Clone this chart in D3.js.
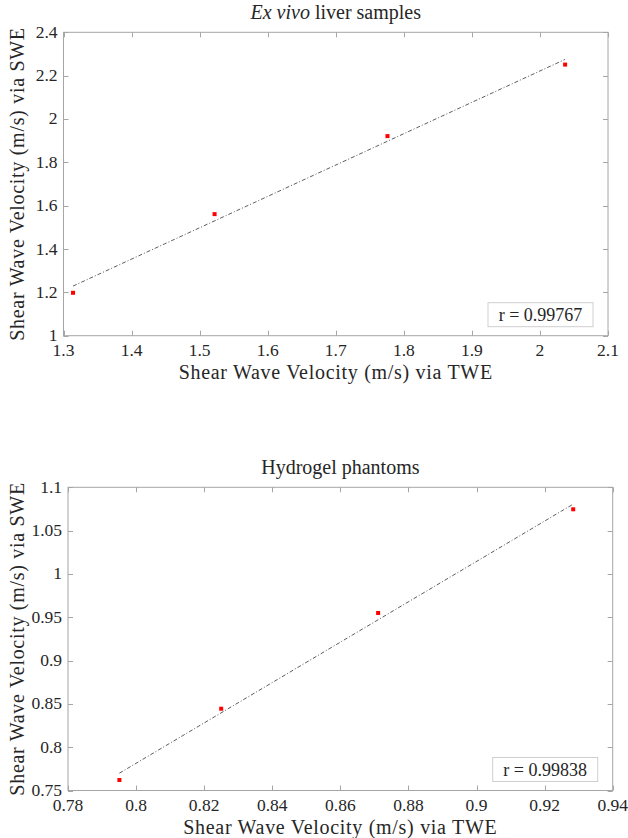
<!DOCTYPE html>
<html>
<head>
<meta charset="utf-8">
<script src="https://cdn.jsdelivr.net/npm/d3@7"></script>
<style>
  html, body { margin: 0; padding: 0; background: #fff; }
  svg text { font-family: "Liberation Serif", "DejaVu Serif", serif; fill: #262626; }
</style>
</head>
<body>
<svg id="chart" width="628" height="838"></svg>
<script>
// ---- Data: Ex vivo liver samples ----
const liverTWE = [1.314, 1.522, 1.776, 2.037];
const liverSWE = [1.198, 1.561, 1.921, 2.251];
const liverFitX = [1.314, 2.037];
const liverFitY = [1.229, 2.275];
const liverXTicks = [1.3, 1.4, 1.5, 1.6, 1.7, 1.8, 1.9, 2.0, 2.1];
const liverXTickLabels = ["1.3", "1.4", "1.5", "1.6", "1.7", "1.8", "1.9", "2", "2.1"];
const liverYTicks = [1.0, 1.2, 1.4, 1.6, 1.8, 2.0, 2.2, 2.4];
const liverYTickLabels = ["1", "1.2", "1.4", "1.6", "1.8", "2", "2.2", "2.4"];
const liverR = "r = 0.99767";

// ---- Data: Hydrogel phantoms ----
const gelTWE = [0.7951, 0.8250, 0.8711, 0.9284];
const gelSWE = [0.7621, 0.8444, 0.9549, 1.0746];
const gelFitX = [0.7951, 0.9284];
const gelFitY = [0.7700, 1.0806];
const gelXTicks = [0.78, 0.80, 0.82, 0.84, 0.86, 0.88, 0.90, 0.92, 0.94];
const gelXTickLabels = ["0.78", "0.8", "0.82", "0.84", "0.86", "0.88", "0.9", "0.92", "0.94"];
const gelYTicks = [0.75, 0.80, 0.85, 0.90, 0.95, 1.00, 1.05, 1.10];
const gelYTickLabels = ["0.75", "0.8", "0.85", "0.9", "0.95", "1", "1.05", "1.1"];
const gelR = "r = 0.99838";

const xTitle = "Shear Wave Velocity (m/s) via TWE";
const yTitle = "Shear Wave Velocity (m/s) via SWE";

const svg = d3.select("#chart");

function drawPanel(p) {
  const g = svg.append("g");
  const x = d3.scaleLinear().domain(p.xDomain).range([p.left, p.right]);
  const y = d3.scaleLinear().domain(p.yDomain).range([p.bottom, p.top]);
  const axisColor = "#a6a6a6";
  const tickLen = 5;

  // box
  g.append("rect")
    .attr("x", p.left).attr("y", p.top)
    .attr("width", p.right - p.left).attr("height", p.bottom - p.top)
    .attr("fill", "none").attr("stroke", axisColor).attr("stroke-width", 1);

  // x ticks (bottom + top, inward)
  p.xTicks.forEach((t, i) => {
    const xx = Math.round(x(t)) + 0.5;
    g.append("line").attr("x1", xx).attr("x2", xx).attr("y1", p.bottom).attr("y2", p.bottom - tickLen)
      .attr("stroke", axisColor);
    g.append("line").attr("x1", xx).attr("x2", xx).attr("y1", p.top).attr("y2", p.top + tickLen)
      .attr("stroke", axisColor);
    g.append("text").attr("x", x(t)).attr("y", p.bottom + 20)
      .attr("text-anchor", "middle").attr("font-size", 17.5)
      .text(p.xTickLabels[i]);
  });
  // y ticks (left + right, inward)
  p.yTicks.forEach((t, i) => {
    const yy = Math.round(y(t)) + 0.5;
    g.append("line").attr("x1", p.left).attr("x2", p.left + tickLen).attr("y1", yy).attr("y2", yy)
      .attr("stroke", axisColor);
    g.append("line").attr("x1", p.right).attr("x2", p.right - tickLen).attr("y1", yy).attr("y2", yy)
      .attr("stroke", axisColor);
    g.append("text").attr("x", p.left - 6).attr("y", y(t) + 5.5)
      .attr("text-anchor", "end").attr("font-size", 17.5)
      .text(p.yTickLabels[i]);
  });

  // axis titles
  g.append("text").attr("x", (p.left + p.right) / 2).attr("y", p.bottom + 43)
    .attr("text-anchor", "middle").attr("font-size", 20).attr("letter-spacing", 0.7)
    .text(xTitle);
  g.append("text")
    .attr("transform", `translate(${p.yTitleX},${(p.top + p.bottom) / 2}) rotate(-90)`)
    .attr("text-anchor", "middle").attr("font-size", 20).attr("letter-spacing", 0.7)
    .text(yTitle);

  // chart title
  const tt = g.append("text").attr("x", (p.left + p.right) / 2).attr("y", p.top - 13)
    .attr("text-anchor", "middle").attr("font-size", 20);
  p.title.forEach(seg => {
    tt.append("tspan").attr("font-style", seg.italic ? "italic" : "normal").text(seg.text);
  });

  // fit line
  const line = d3.line().x(d => x(d[0])).y(d => y(d[1]));
  g.append("path")
    .datum(d3.zip(p.fitX, p.fitY))
    .attr("d", line)
    .attr("fill", "none").attr("stroke", "#333").attr("stroke-width", 0.8)
    .attr("stroke-dasharray", "4,2,1,2");

  // points
  g.selectAll("rect.pt").data(d3.zip(p.xs, p.ys)).enter().append("rect")
    .attr("class", "pt")
    .attr("x", d => x(d[0]) - 2).attr("y", d => y(d[1]) - 2)
    .attr("width", 4).attr("height", 4).attr("fill", "#ff0000");

  // legend box
  const bw = 105, bh = 24;
  const bx = p.right - 15 - bw, by = p.bottom - 9 - bh;
  g.append("rect").attr("x", bx).attr("y", by).attr("width", bw).attr("height", bh)
    .attr("fill", "#fff").attr("stroke", "#cfcfcf").attr("stroke-width", 1);
  g.append("text").attr("x", bx + bw / 2).attr("y", by + bh / 2 + 6)
    .attr("text-anchor", "middle").attr("font-size", 18).text(p.rText);
}

drawPanel({
  left: 63.5, right: 608, top: 32.3, bottom: 335.7, yTitleX: 24,
  xDomain: [1.3, 2.1], yDomain: [1.0, 2.4],
  xTicks: liverXTicks, xTickLabels: liverXTickLabels,
  yTicks: liverYTicks, yTickLabels: liverYTickLabels,
  xs: liverTWE, ys: liverSWE, fitX: liverFitX, fitY: liverFitY,
  rText: liverR,
  title: [{ text: "Ex vivo", italic: true }, { text: " liver samples", italic: false }]
});

drawPanel({
  left: 68, right: 612.7, top: 487.3, bottom: 790.5, yTitleX: 24,
  xDomain: [0.78, 0.94], yDomain: [0.75, 1.10],
  xTicks: gelXTicks, xTickLabels: gelXTickLabels,
  yTicks: gelYTicks, yTickLabels: gelYTickLabels,
  xs: gelTWE, ys: gelSWE, fitX: gelFitX, fitY: gelFitY,
  rText: gelR,
  title: [{ text: "Hydrogel phantoms", italic: false }]
});
</script>
</body>
</html>
